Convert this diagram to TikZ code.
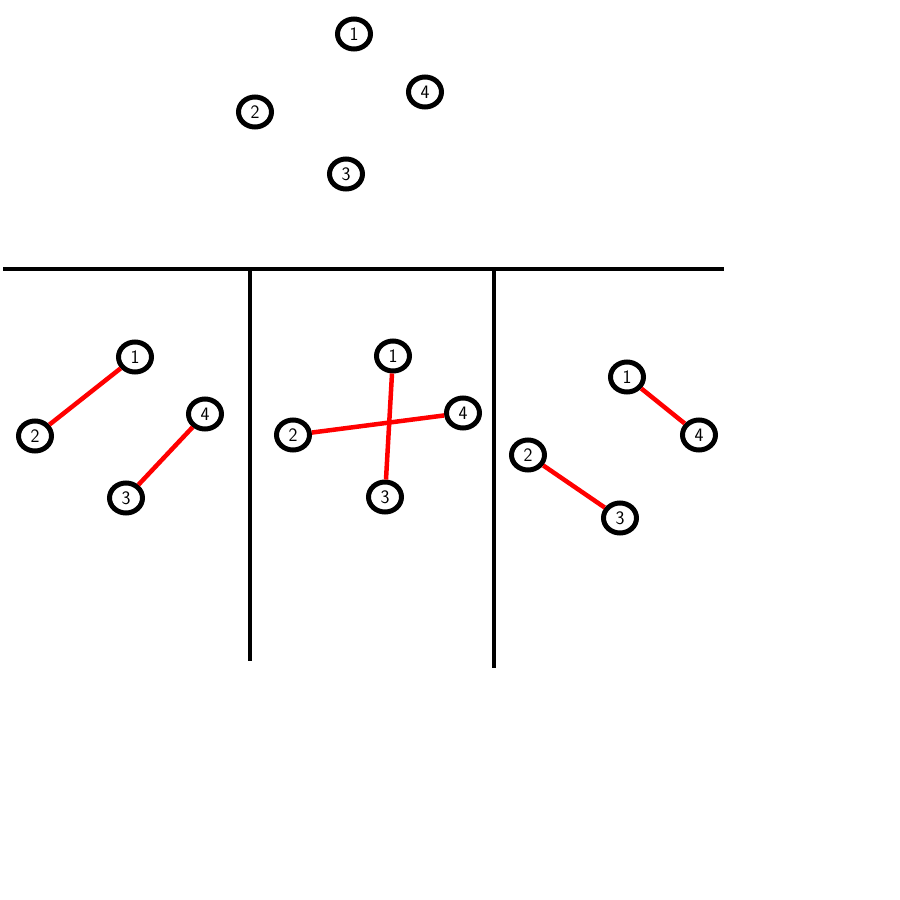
\documentclass[tikz,border=0pt]{standalone}
\usepackage{fontspec}
\usetikzlibrary{shapes.geometric}
\begin{document}
\begin{tikzpicture}[x=1pt,y=-1pt,
  vtx/.style={ellipse,draw=black,line width=5pt,fill=white,minimum width=33pt,minimum height=30pt,inner sep=0pt,font=\fontsize{19}{19}\selectfont\sffamily},
  wall/.style={line width=4pt,black},
  link/.style={line width=4.5pt,red}]
\useasboundingbox (0,0) rectangle (900,900);
% walls
\coordinate (hl) at (3,269);
\coordinate (hr) at (724,269);
\coordinate (v1t) at (250,269);
\coordinate (v1b) at (250,661);
\coordinate (v2t) at (494,269);
\coordinate (v2b) at (494,668);
\draw[wall] (hl) -- (hr);
\draw[wall] (v1t) -- (v1b);
\draw[wall] (v2t) -- (v2b);
% top
\node[vtx] (t1) at (354,34) {1};
\node[vtx] (t4) at (425,92) {4};
\node[vtx] (t2) at (255,112) {2};
\node[vtx] (t3) at (346,174) {3};
% left
\node[vtx] (a1) at (135,357) {1};
\node[vtx] (a2) at (35,436) {2};
\node[vtx] (a4) at (205,414) {4};
\node[vtx] (a3) at (126,498) {3};
% middle
\node[vtx] (b1) at (393,356) {1};
\node[vtx] (b2) at (293,435) {2};
\node[vtx] (b4) at (463,413) {4};
\node[vtx] (b3) at (385,497) {3};
% right
\node[vtx] (c1) at (627,377) {1};
\node[vtx] (c4) at (699,435) {4};
\node[vtx] (c2) at (528,455) {2};
\node[vtx] (c3) at (620,518) {3};
\draw[link] (a1) -- (a2);
\draw[link] (a4) -- (a3);
\draw[link] (b1) -- (b3);
\draw[link] (b2) -- (b4);
\draw[link] (c1) -- (c4);
\draw[link] (c2) -- (c3);
\end{tikzpicture}
\end{document}
